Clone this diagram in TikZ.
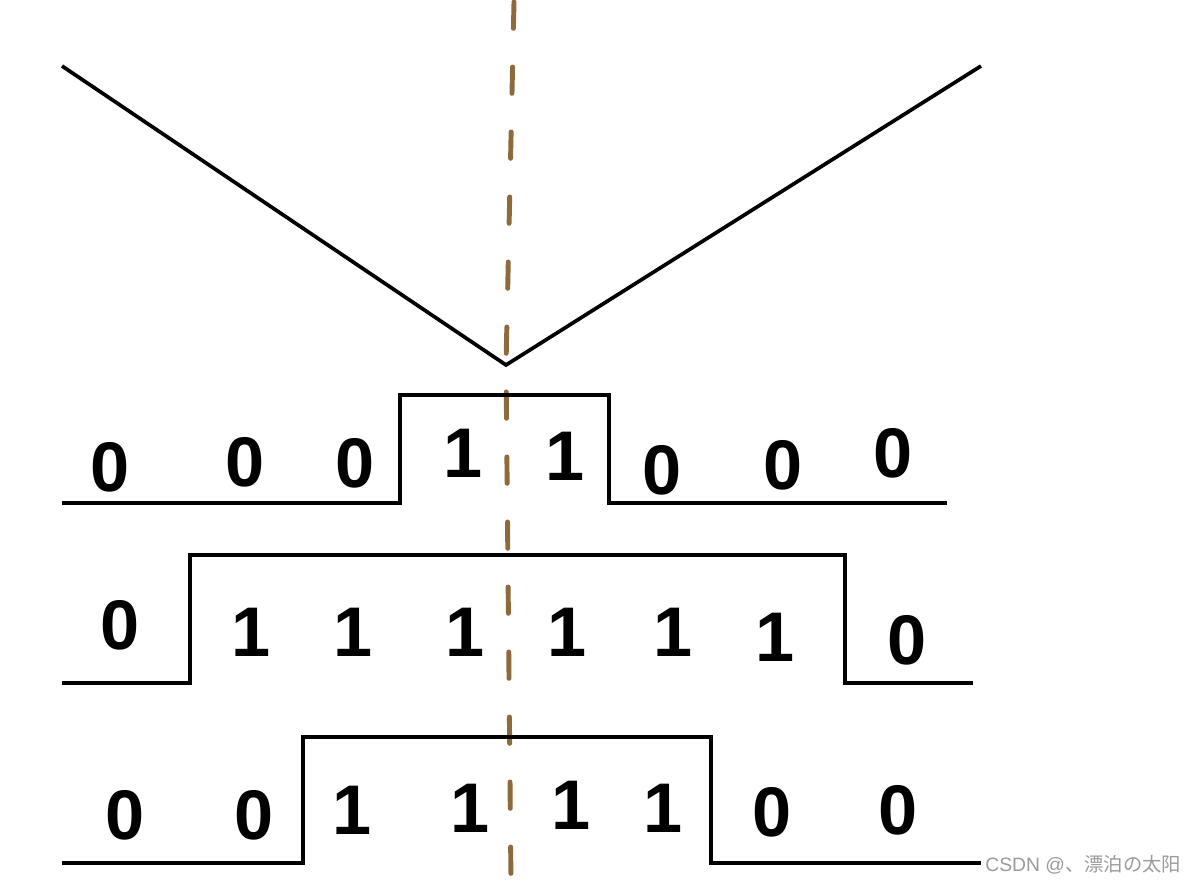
\documentclass[tikz,border=0pt]{standalone}
\usepackage{fontspec}
\setmainfont{Liberation Sans}
\newfontfamily\cjkfont{Noto Sans CJK SC}
\usepackage{tikz}
\definecolor{axisbrown}{HTML}{8E6A3A}
\definecolor{markgray}{HTML}{9A9A9A}

\begin{document}
\begin{tikzpicture}[
  x=0.02cm, y=-0.02cm,
  wave/.style={line width=2.1pt, line join=miter},
  axis/.style={line width=2.8pt, color=axisbrown, line cap=round, dash pattern=on 15pt off 22pt},
  bit/.style={font=\bfseries\fontsize{40}{40}\selectfont, inner sep=0pt}
]
\useasboundingbox (0,0) rectangle (1190,884);

% the V curve and the symmetry axis
\draw[wave] (62,66) -- (506,365) -- (981,66);
\draw[axis] (514,2) -- (506,365) -- (511,884);

% first row
\draw[wave] (62,503) -- (400,503) -- (400,395) -- (609,395) -- (609,503) -- (947,503);
\node[bit] (a1) at (110,467) {0};
\node[bit] (a2) at (245,462) {0};
\node[bit] (a3) at (355,463) {0};
\node[bit] (a4) at (463,453) {1};
\node[bit] (a5) at (565,456) {1};
\node[bit] (a6) at (662,470) {0};
\node[bit] (a7) at (783,465) {0};
\node[bit] (a8) at (893,453) {0};

% second row
\draw[wave] (62,683) -- (190,683) -- (190,555) -- (845,555) -- (845,683) -- (973,683);
\node[bit] (b1) at (120,625) {0};
\node[bit] (b2) at (251,632) {1};
\node[bit] (b3) at (353,632) {1};
\node[bit] (b4) at (465,632) {1};
\node[bit] (b5) at (567,632) {1};
\node[bit] (b6) at (673,632) {1};
\node[bit] (b7) at (775,637) {1};
\node[bit] (b8) at (907,640) {0};

% third row
\draw[wave] (62,863) -- (303,863) -- (303,737) -- (711,737) -- (711,863) -- (981,863);
\node[bit] (c1) at (125,815) {0};
\node[bit] (c2) at (254,815) {0};
\node[bit] (c3) at (352,810) {1};
\node[bit] (c4) at (470,808) {1};
\node[bit] (c5) at (571,805) {1};
\node[bit] (c6) at (663,808) {1};
\node[bit] (c7) at (772,812) {0};
\node[bit] (c8) at (898,810) {0};

\node[anchor=west, inner sep=0pt, text=markgray, font=\fontsize{11}{11}\selectfont] (mark) at (985,865) {CSDN @{\cjkfont 、漂泊の太阳}};
\end{tikzpicture}
\end{document}
